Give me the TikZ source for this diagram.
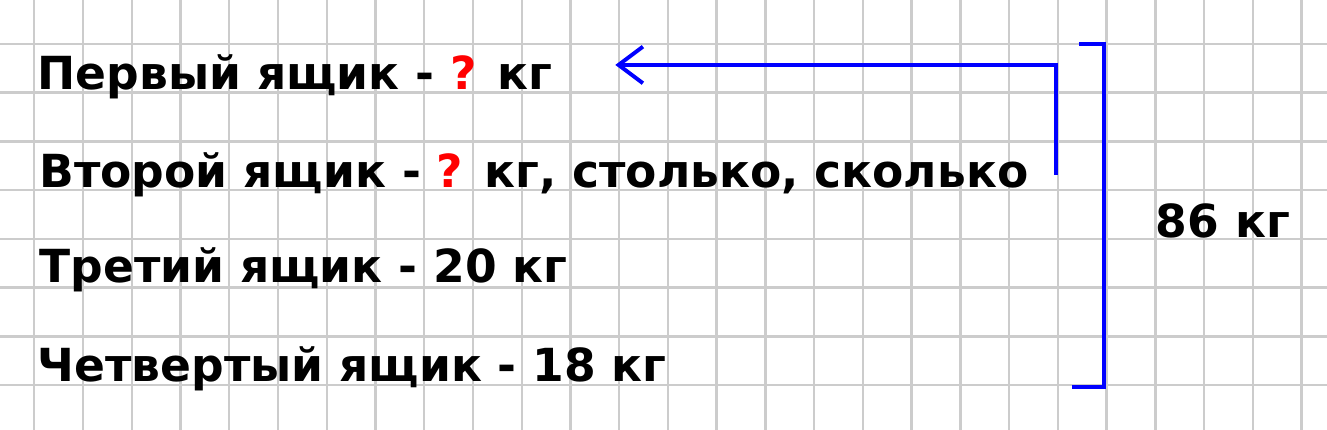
\documentclass[tikz,border=0pt]{standalone}
\usepackage{fontspec}
\setmainfont{DejaVu Sans}
\usepackage{tikz}
\usetikzlibrary{arrows.meta}
\definecolor{pureblue}{rgb}{0,0,1}
\definecolor{qred}{rgb}{1,0,0}
\tikzstyle{paper}=[draw=gray!40,line width=0.05cm]
\tikzstyle{none}=[inner sep=0pt]
\tikzstyle{boxtext}=[anchor=base west,inner sep=0pt,font=\fontsize{26.6}{32}\selectfont\bfseries]
\tikzstyle{bracket}=[-,draw=pureblue,line width=0.08cm,line join=miter]
\tikzstyle{backarrow}=[-{Straight Barb[length=0.5cm,width=0.75cm]},draw=pureblue,line width=0.08cm]
\newcommand{\qmark}{\textcolor{qred}{?}}
\pgfdeclarelayer{gridlayer}
\pgfsetlayers{gridlayer,main}

\begin{document}
\begin{tikzpicture}
	\useasboundingbox (-0.703,0.902) rectangle (26.52,-7.91);
	\begin{pgfonlayer}{gridlayer}
		\fill [white] (-0.703,0.902) rectangle (26.52,-7.91);
		\draw [style=paper] (-0.703,0.902) grid (26.52,-7.91);
	\end{pgfonlayer}

	\node [style=boxtext] (first) at (0.06,-0.94) {Первый ящик - \qmark{} кг};
	\node [style=boxtext] (second) at (0.1,-2.95) {Второй ящик - \qmark{} кг, столько, сколько};
	\node [style=boxtext] (third) at (0.1,-4.89) {Третий ящик - 20 кг};
	\node [style=boxtext] (fourth) at (0.06,-6.93) {Четвертый ящик - 18 кг};
	\node [style=boxtext] (total) at (23.0,-3.98) {86 кг};

	\node [style=none] (Abot) at (20.96,-2.68) {};
	\node [style=none] (Acorner) at (20.96,-0.43) {};
	\node [style=none] (Atip) at (11.92,-0.43) {};

	\node [style=none] (Btl) at (21.43,0) {};
	\node [style=none] (Btr) at (21.94,0) {};
	\node [style=none] (Bbr) at (21.94,-7.03) {};
	\node [style=none] (Bbl) at (21.29,-7.03) {};

	\draw [style=backarrow] (Abot.center) -- (Acorner.center) -- (Atip.center);
	\draw [style=bracket] (Btl.center) -- (Btr.center) -- (Bbr.center) -- (Bbl.center);
\end{tikzpicture}
\end{document}
